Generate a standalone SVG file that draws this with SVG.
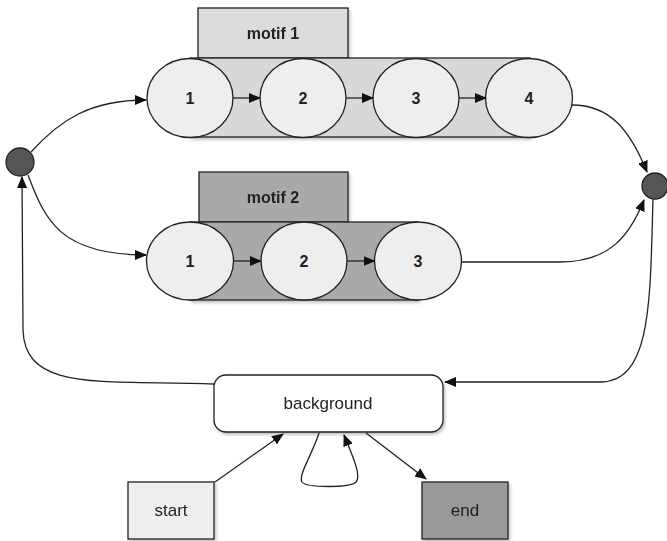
<svg xmlns="http://www.w3.org/2000/svg" width="667" height="541" viewBox="0 0 667 541">
<style>
.b{stroke:#222;stroke-width:1.3}
.lbl{font-family:"Liberation Sans",Arial,sans-serif;font-weight:bold;font-size:16px;fill:#222;text-anchor:middle;dominant-baseline:central}
.txt{font-family:"Liberation Sans",Arial,sans-serif;font-size:17px;fill:#222;text-anchor:middle;dominant-baseline:central}
.ell{fill:#eeeeee;stroke:#222;stroke-width:1.3}
.c{fill:none;stroke:#222;stroke-width:1.3}
</style>
<defs>
<marker id="ah" markerWidth="12" markerHeight="10" refX="11" refY="5" orient="auto" markerUnits="userSpaceOnUse">
<path d="M0,0 L12,5 L0,10 Z" fill="#111"/>
</marker>
<filter id="sh" x="-10%" y="-10%" width="130%" height="130%">
<feDropShadow dx="1.5" dy="2" stdDeviation="1.5" flood-color="#000" flood-opacity="0.25"/>
</filter>
</defs>
<rect width="667" height="541" fill="#fff"/>

<g id="motif1" filter="url(#sh)">
<rect x="198" y="8" width="150" height="50" fill="#dcdcdc" class="b"/>
<text x="273" y="33" class="lbl">motif 1</text>
<rect x="190" y="58" width="340" height="79" fill="#d8d8d8" class="b"/>
</g>
<g id="m1n1"><ellipse cx="190" cy="98" rx="43" ry="39.5" class="ell"/><text x="190" y="98" class="lbl">1</text></g>
<g id="m1n2"><ellipse cx="303" cy="98" rx="43" ry="39.5" class="ell"/><text x="303" y="98" class="lbl">2</text></g>
<g id="m1n3"><ellipse cx="416" cy="98" rx="43" ry="39.5" class="ell"/><text x="416" y="98" class="lbl">3</text></g>
<g id="m1n4"><ellipse cx="529" cy="98" rx="43.5" ry="39.5" class="ell"/><text x="529" y="98" class="lbl">4</text></g>

<g id="motif2" filter="url(#sh)">
<rect x="199" y="172" width="149" height="50" fill="#a9a9a9" class="b"/>
<text x="273" y="197" class="lbl">motif 2</text>
<rect x="190" y="222" width="228" height="78" fill="#a9a9a9" class="b"/>
</g>
<g id="m2n1"><ellipse cx="190" cy="261" rx="43.5" ry="39" class="ell"/><text x="190" y="261" class="lbl">1</text></g>
<g id="m2n2"><ellipse cx="304" cy="261" rx="43" ry="39" class="ell"/><text x="304" y="261" class="lbl">2</text></g>
<g id="m2n3"><ellipse cx="418" cy="261" rx="43.5" ry="39" class="ell"/><text x="418" y="261" class="lbl">3</text></g>

<g id="junctionL"><circle cx="20" cy="162" r="14" fill="#555" stroke="#222" stroke-width="1.3"/></g>
<g id="junctionR"><circle cx="655" cy="186" r="13" fill="#555" stroke="#222" stroke-width="1.3"/></g>

<g id="background" filter="url(#sh)"><rect x="214" y="375" width="229" height="57" rx="12" fill="#fff" class="b"/><text x="328" y="403" class="txt">background</text></g>
<g id="start" filter="url(#sh)"><rect x="128" y="482" width="86" height="57" fill="#eeeeee" class="b"/><text x="171" y="510" class="txt">start</text></g>
<g id="end" filter="url(#sh)"><rect x="422" y="482" width="86" height="57" fill="#999" class="b"/><text x="465" y="510" class="txt">end</text></g>

<g id="connectors" class="c">
<path class="c" d="M233 98 L260 98" marker-end="url(#ah)"/>
<path class="c" d="M346 98 L373 98" marker-end="url(#ah)"/>
<path class="c" d="M459 98 L486 98" marker-end="url(#ah)"/>
<path class="c" d="M233.5 261 L261 261" marker-end="url(#ah)"/>
<path class="c" d="M347 261 L374.5 261" marker-end="url(#ah)"/>
<path class="c" d="M31 152 C60 120 90 100 146 100" marker-end="url(#ah)"/>
<path class="c" d="M28 175 C45 220 60 255 146 255" marker-end="url(#ah)"/>
<path class="c" d="M572 105 C610 105 630 130 647 172" marker-end="url(#ah)"/>
<path class="c" d="M461.5 262 L560 262 C610 262 630 235 644 200" marker-end="url(#ah)"/>
<path class="c" d="M653 199 C650 300 652 382 600 382 L445 382" marker-end="url(#ah)"/>
<path class="c" d="M214 384 C100 380 25 392 23 330 L22 177" marker-end="url(#ah)"/>
<path class="c" d="M215 482 L283 434" marker-end="url(#ah)"/>
<path class="c" d="M319 433 C312 455 298 475 302 482 C306 488 350 488 356 482 C362 476 352 455 344 435" marker-end="url(#ah)"/>
<path class="c" d="M366 433 L426 479" marker-end="url(#ah)"/>
</g>
</svg>
